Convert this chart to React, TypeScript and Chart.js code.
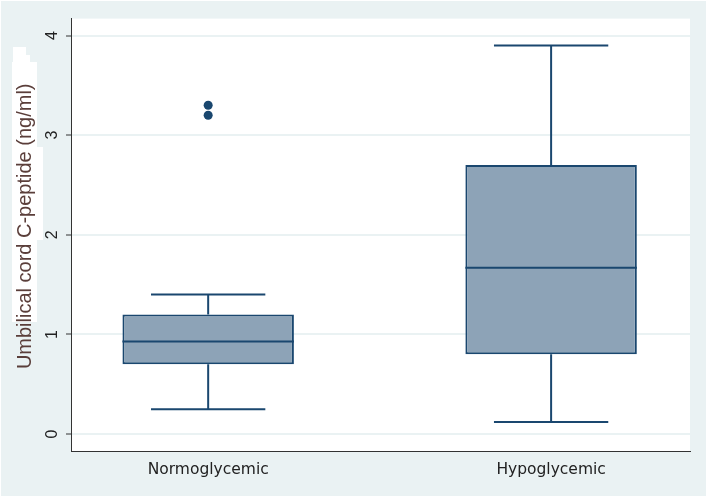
import React, { useEffect, useRef } from "react";
import { Chart, registerables } from "chart.js";

Chart.register(...registerables);

// ---- data ----
const CATEGORIES = ["Normoglycemic", "Hypoglycemic"];
const POSITIONS = [1, 2];
const LOWER_WHISKER = [0.25, 0.12];
const Q1 = [0.7, 0.8];
const MEDIAN = [0.93, 1.67];
const Q3 = [1.2, 2.7];
const UPPER_WHISKER = [1.4, 3.9];
const OUTLIER_X = [1, 1];
const OUTLIER_Y = [3.3, 3.2];
const Y_TICKS = [0, 1, 2, 3, 4];
const Y_TITLE = "Umbilical cord C-peptide (ng/ml)";

// ---- style ----
const NAVY = "#1A476F";
const BOX_FILL = "#8DA3B7";
const BG = "#EAF2F3";
const AXIS = "#333333";
const BOX_HALF = 0.25;
const CAP_HALF = 1 / 6;

const GAP = (x: number) => ({ x, y: null as any });

export default function App() {
  const ref = useRef<HTMLCanvasElement | null>(null);

  useEffect(() => {
    if (!ref.current) return;

    const boxes = POSITIONS.map((p, i) => ({ x: p, y: [Q1[i], Q3[i]] }));
    const medians = POSITIONS.flatMap((p, i) => [
      { x: p - BOX_HALF, y: MEDIAN[i] },
      { x: p + BOX_HALF, y: MEDIAN[i] },
      GAP(p),
    ]);
    const whiskers = POSITIONS.flatMap((p, i) => [
      { x: p, y: Q3[i] },
      { x: p, y: UPPER_WHISKER[i] },
      GAP(p),
      { x: p, y: LOWER_WHISKER[i] },
      { x: p, y: Q1[i] },
      GAP(p),
    ]);
    const caps = POSITIONS.flatMap((p, i) => [
      { x: p - CAP_HALF, y: UPPER_WHISKER[i] },
      { x: p + CAP_HALF, y: UPPER_WHISKER[i] },
      GAP(p),
      { x: p - CAP_HALF, y: LOWER_WHISKER[i] },
      { x: p + CAP_HALF, y: LOWER_WHISKER[i] },
      GAP(p),
    ]);
    const outliers = OUTLIER_X.map((x, i) => ({ x, y: OUTLIER_Y[i] }));

    const decor = {
      id: "decor",
      beforeDraw(chart: any) {
        const { ctx, chartArea: a, width, height } = chart;
        ctx.save();
        ctx.fillStyle = "#ffffff";
        ctx.fillRect(0, 0, width, height);
        ctx.fillStyle = BG;
        ctx.fillRect(1, 1, width - 4, height - 3);
        ctx.fillStyle = "#ffffff";
        ctx.fillRect(a.left, a.top, a.right - a.left, a.bottom - a.top);
        // white patches behind the axis title
        ctx.fillRect(12, 62, 25, 260);
        ctx.fillRect(13, 147, 30, 93);
        ctx.fillRect(13, 47, 13, 15);
        ctx.fillRect(22, 55, 8, 7);
        ctx.restore();
      },
      afterDraw(chart: any) {
        const { ctx } = chart;
        const ys = chart.scales.y;
        ctx.save();
        ctx.translate(ys.left + 25, (ys.top + ys.bottom) / 2 - 8.5);
        ctx.rotate(-Math.PI / 2);
        ctx.font = '20px "Liberation Sans", Arial, sans-serif';
        ctx.fillStyle = "#5a3e3a";
        ctx.textAlign = "center";
        ctx.textBaseline = "middle";
        ctx.fillText(Y_TITLE, 0, 0);
        ctx.restore();
      },
    };

    const chart = new Chart(ref.current, {
      type: "bar",
      data: {
        datasets: [
          {
            type: "line",
            data: medians,
            borderColor: NAVY,
            borderWidth: 2,
            pointRadius: 0,
            spanGaps: false,
            order: 0,
          } as any,
          {
            type: "scatter",
            data: outliers,
            backgroundColor: NAVY,
            borderColor: NAVY,
            borderWidth: 0,
            pointRadius: 4.5,
            order: 1,
          } as any,
          {
            type: "bar",
            data: boxes,
            backgroundColor: BOX_FILL,
            borderColor: NAVY,
            borderWidth: 2,
            borderSkipped: false,
            barPercentage: 0.5,
            categoryPercentage: 1,
            order: 2,
          } as any,
          {
            type: "line",
            data: whiskers,
            borderColor: NAVY,
            borderWidth: 2,
            pointRadius: 0,
            spanGaps: false,
            order: 3,
          } as any,
          {
            type: "line",
            data: caps,
            borderColor: NAVY,
            borderWidth: 2,
            pointRadius: 0,
            spanGaps: false,
            order: 3,
          } as any,
        ],
      },
      options: {
        responsive: false,
        animation: false,
        events: [],
        layout: { padding: { left: 0, top: 18, right: 19, bottom: 0 } },
        plugins: { legend: { display: false }, tooltip: { enabled: false } },
        scales: {
          x: {
            type: "linear",
            min: 0.6,
            max: 2.405,
            offset: false,
            afterBuildTicks: (s: any) => {
              s.ticks = POSITIONS.map((v) => ({ value: v }));
            },
            afterFit: (s: any) => {
              s.height = 47;
            },
            ticks: {
              autoSkip: false,
              maxRotation: 0,
              padding: 2,
              color: "#222222",
              font: { family: "DejaVu Sans", size: 15.5 },
              callback: (v: any) => {
                const i = POSITIONS.indexOf(Number(v));
                return i >= 0 ? CATEGORIES[i] : "";
              },
            },
            grid: { display: false },
            border: { display: true, color: AXIS, width: 1 },
          },
          y: {
            type: "linear",
            min: -0.17,
            max: 4.17,
            afterBuildTicks: (s: any) => {
              s.ticks = Y_TICKS.map((v) => ({ value: v }));
            },
            afterFit: (s: any) => {
              s.width = 71;
            },
            ticks: {
              minRotation: 90,
              maxRotation: 90,
              crossAlign: "center",
              padding: 9,
              color: "#222222",
              font: { family: "Liberation Sans", size: 16 },
              callback: (v: any) => String(v),
            },
            grid: {
              color: BG,
              lineWidth: 2,
              drawTicks: true,
              tickLength: 5,
              tickColor: AXIS,
              tickWidth: 1,
            },
            border: { display: true, color: AXIS, width: 1 },
          },
        },
      } as any,
      plugins: [decor],
    });

    return () => chart.destroy();
  }, []);

  return (
    <div style={{ position: "absolute", left: 0, top: 0, width: 709, height: 498 }}>
      <canvas ref={ref} width={709} height={498} style={{ display: "block" }} />
    </div>
  );
}
